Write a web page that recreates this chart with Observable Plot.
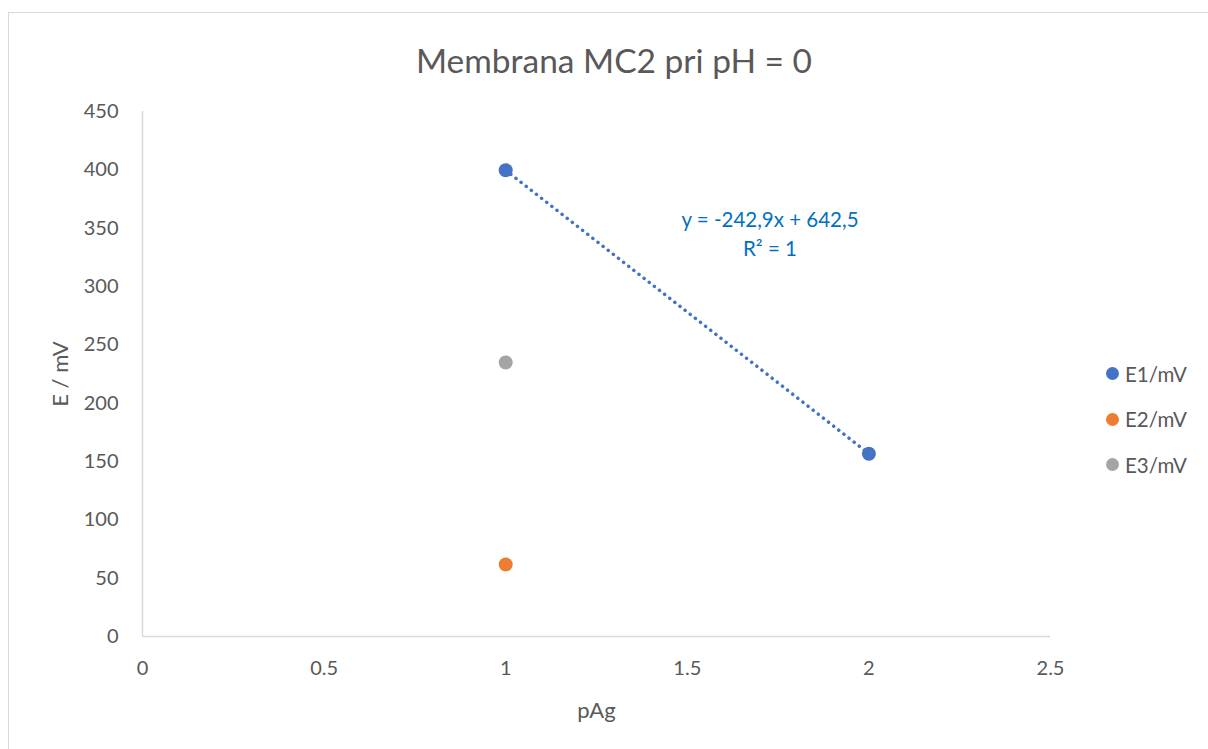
<!DOCTYPE html>
<html>
<head>
<meta charset="utf-8">
<script src="https://cdn.jsdelivr.net/npm/d3@7"></script>
<script src="https://cdn.jsdelivr.net/npm/@observablehq/plot@0.6"></script>
<style>
  html, body { margin: 0; padding: 0; background: #fff; }
  body { width: 1208px; height: 749px; overflow: hidden; position: relative; font-family: Lato, "Open Sans", sans-serif; color: #595959; }
  #frame { position: absolute; left: 8px; top: 12px; width: 1220px; height: 760px; border: 1px solid #d9d9d9; box-sizing: border-box; }
  #title { position: absolute; left: 0; width: 1228px; top: 60px; transform: translateY(-50%); text-align: center; font-size: 33.5px; line-height: 40px; color: #595959; }
  #chart { position: absolute; left: 0; top: 0; }
  #eq { position: absolute; left: 620px; width: 300px; top: 205px; text-align: center; font-size: 20.5px; line-height: 29px; color: #0070C0; }
  #legend { position: absolute; left: 1106px; top: 351px; font-size: 20.5px; }
  .li { height: 45.5px; display: flex; align-items: center; }
  .sw { width: 13px; height: 13px; border-radius: 50%; margin-right: 6px; }
</style>
</head>
<body>
<div id="frame"></div>
<div id="chart"></div>
<div id="title">Membrana MC2 pri pH = 0</div>
<div id="eq"></div>
<div id="legend"></div>
<script>
const seriesNames = ["E1/mV", "E2/mV", "E3/mV"];
const seriesColors = ["#4472C4", "#ED7D31", "#A5A5A5"];
const pAg1 = [1, 2];
const E1 = [399.6, 156.7];
const pAg2 = [1];
const E2 = [61.7];
const pAg3 = [1];
const E3 = [234.9];
const xTicks = [0, 0.5, 1, 1.5, 2, 2.5];
const yTicks = [0, 50, 100, 150, 200, 250, 300, 350, 400, 450];
const trendSlope = -242.9;
const trendIntercept = 642.5;
const trendText = ["y = -242,9x + 642,5", "R² = 1"];

const pts = [];
[[pAg1, E1], [pAg2, E2], [pAg3, E3]].forEach(([xs, ys], i) => {
  xs.forEach((x, j) => pts.push({ pAg: x, E: ys[j], s: seriesNames[i] }));
});
const trend = d3.extent(pAg1).map(x => ({ pAg: x, E: trendSlope * x + trendIntercept }));

const chart = Plot.plot({
  width: 1208,
  height: 749,
  marginLeft: 142,
  marginRight: 158,
  marginTop: 111,
  marginBottom: 113,
  style: { fontFamily: "Lato, 'Open Sans', sans-serif", fontSize: "20px", color: "#595959", background: "transparent" },
  x: { domain: [0, 2.5], ticks: xTicks, tickFormat: d => String(d), tickSize: 0, tickPadding: 24, label: "pAg", labelAnchor: "center", labelOffset: 81, labelArrow: "none" },
  y: { domain: [0, 450], ticks: yTicks, tickFormat: d => String(d), tickSize: 0, tickPadding: 24, label: "E / mV", labelAnchor: "center", labelOffset: 90, labelArrow: "none" },
  color: { domain: seriesNames, range: seriesColors },
  marks: [
    Plot.ruleY([0], { stroke: "#d9d9d9", strokeWidth: 1.5 }),
    Plot.ruleX([0], { stroke: "#d9d9d9", strokeWidth: 1.5 }),
    Plot.line(trend, { x: "pAg", y: "E", stroke: "#4472C4", strokeWidth: 3.5, strokeDasharray: "0.1 6.4", strokeLinecap: "round" }),
    Plot.dot(pts, { x: "pAg", y: "E", fill: "s", r: 7 })
  ]
});
document.getElementById("chart").appendChild(chart);
chart.querySelectorAll("[aria-label='x-axis label'] text, [aria-label='y-axis label'] text").forEach(t => t.setAttribute("font-size", "22px"));

document.getElementById("eq").innerHTML = trendText.map(t => `<div>${t}</div>`).join("");
document.getElementById("legend").innerHTML = seriesNames.map((n, i) =>
  `<div class="li"><div class="sw" style="background:${seriesColors[i]}"></div><div>${n}</div></div>`).join("");
</script>
</body>
</html>
